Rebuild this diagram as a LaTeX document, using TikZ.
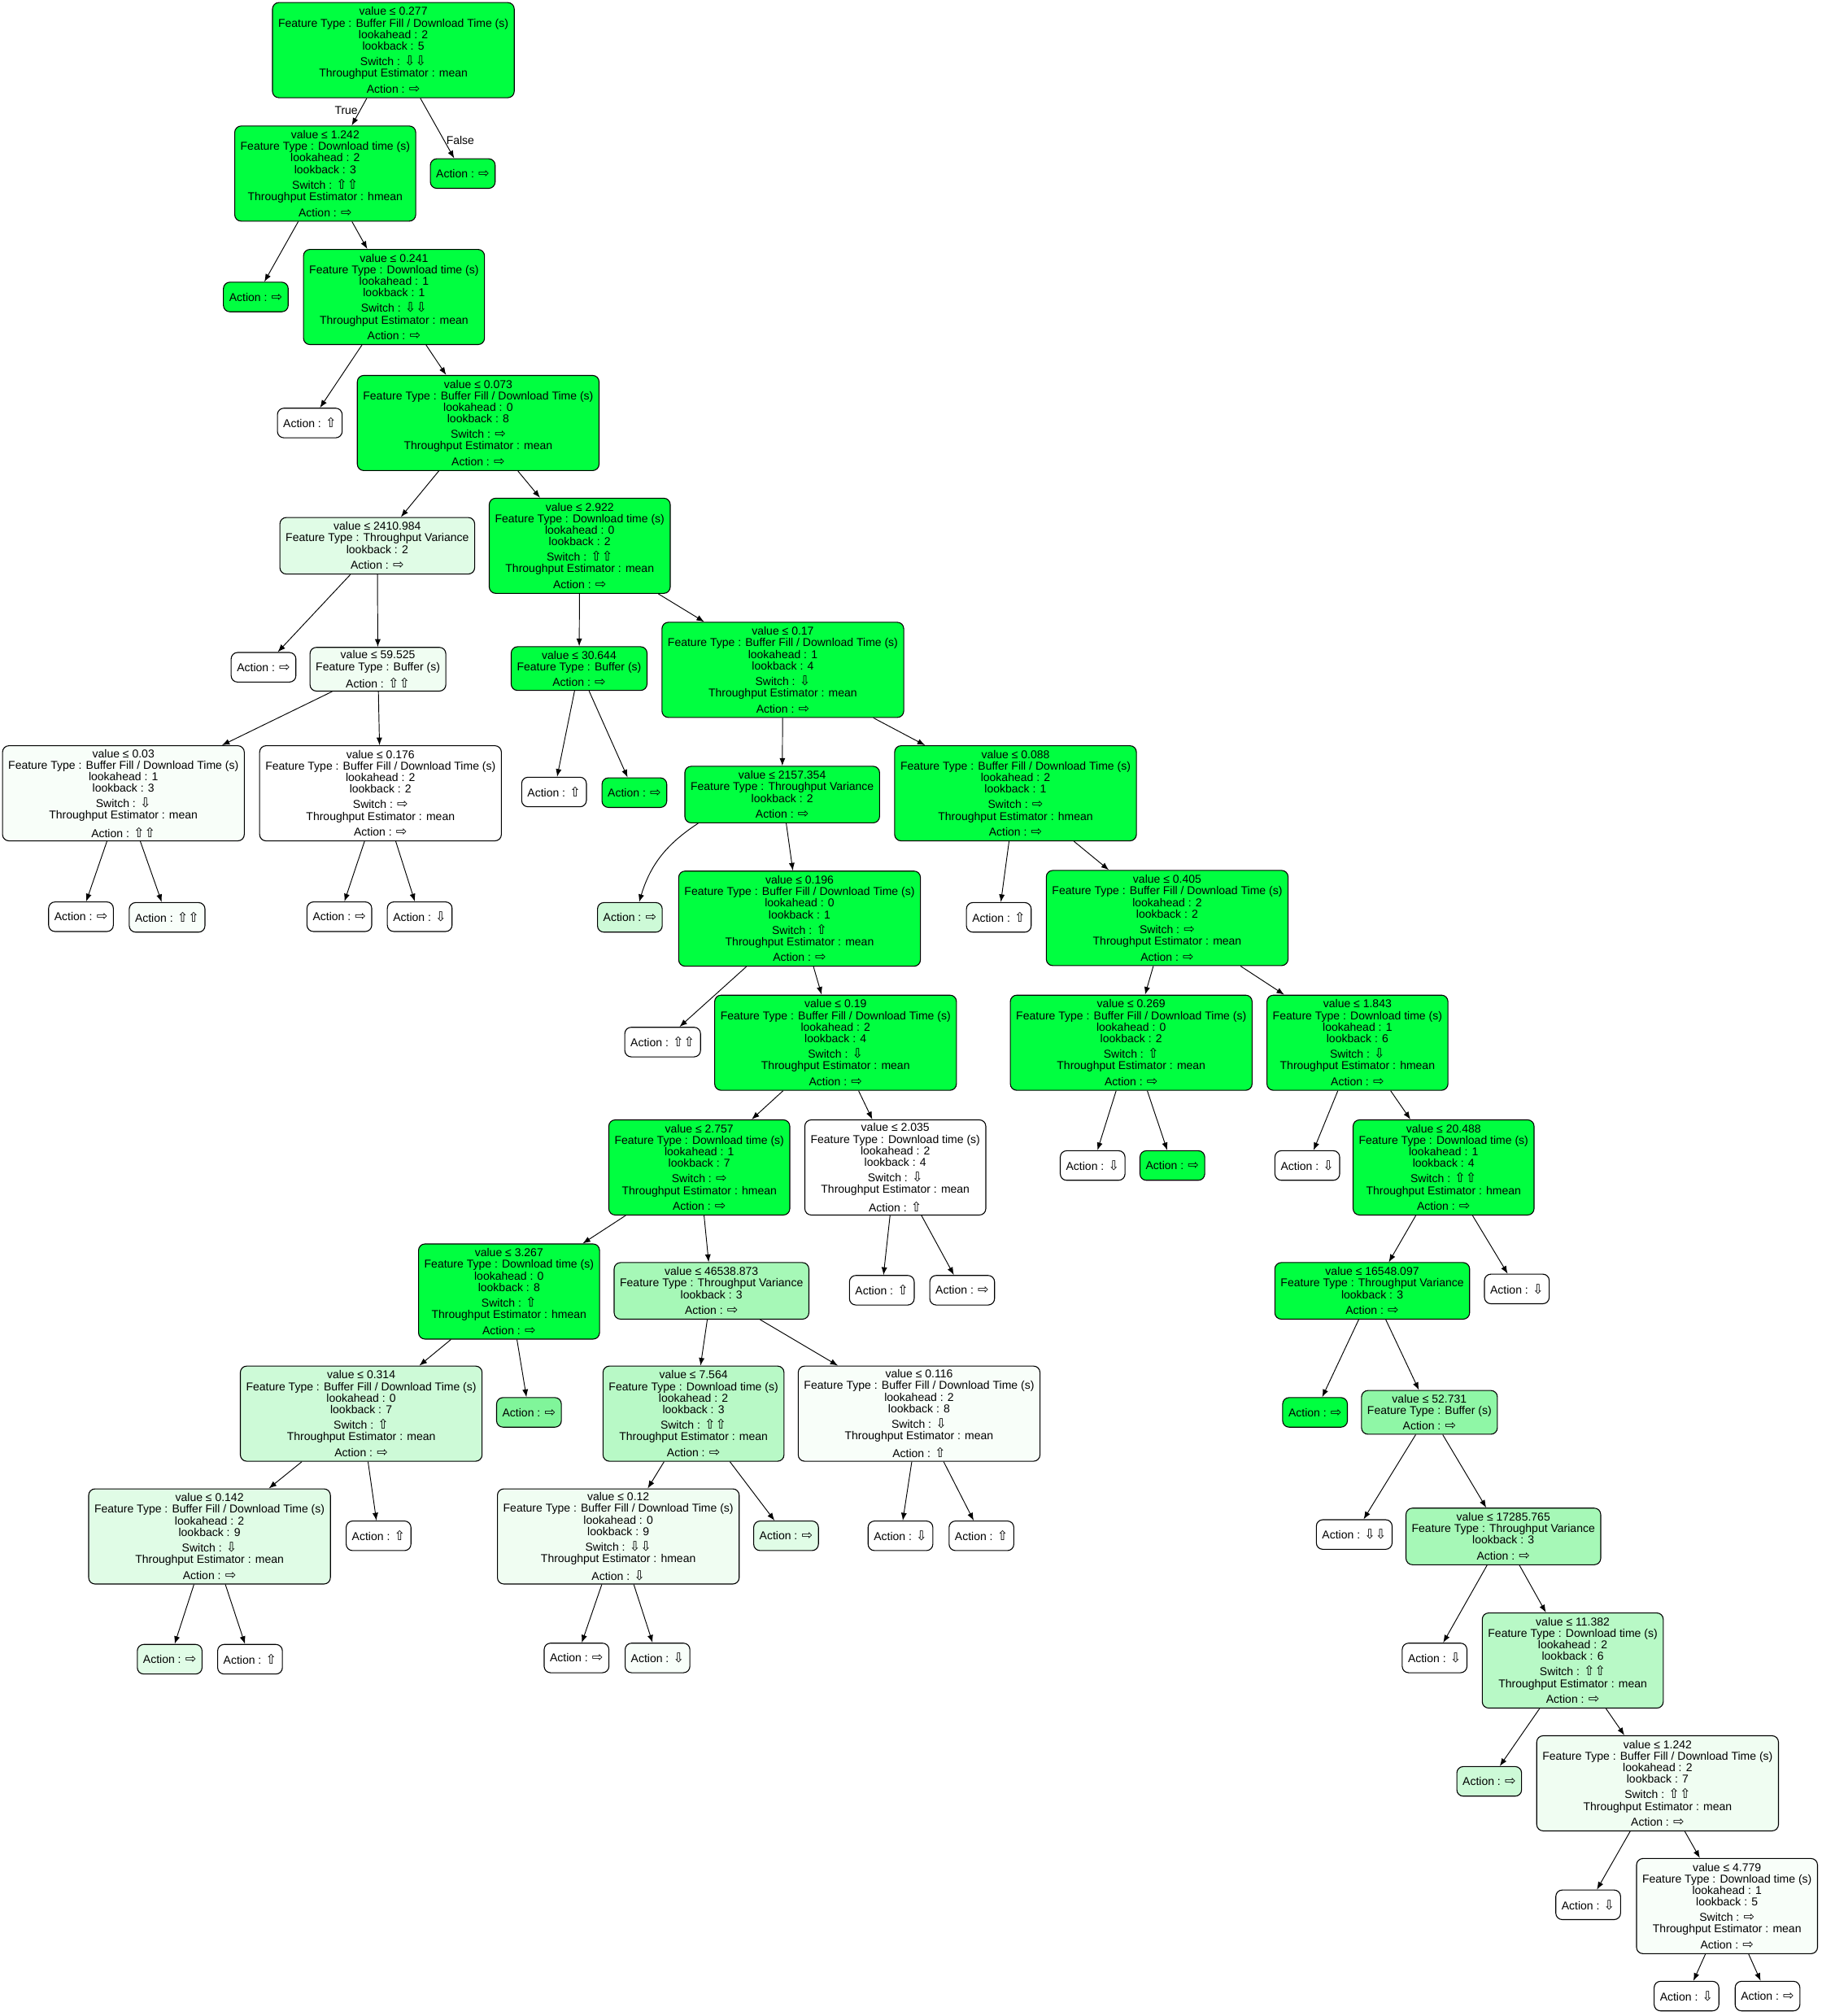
\documentclass[tikz,border=0pt]{standalone}
\usepackage{fontspec}
\setmainfont{Liberation Sans}
\newfontfamily\arrowfont{DejaVu Sans}
\usepackage{xcolor}
\usetikzlibrary{arrows.meta}

\definecolor{gbright}{RGB}{0,255,64}
\definecolor{gpaleA}{RGB}{248,254,249}
\definecolor{gpaleB}{RGB}{240,253,242}
\definecolor{gpaleC}{RGB}{224,252,230}
\definecolor{gpaleD}{RGB}{205,250,215}
\definecolor{gmidA}{RGB}{184,249,198}
\definecolor{gmidB}{RGB}{166,248,183}
\definecolor{gmidC}{RGB}{143,247,166}
\definecolor{gmidD}{RGB}{128,245,154}

\newcommand{\arR}{{\arrowfont\fontsize{10.2}{9}\selectfont ⇨}}
\newcommand{\arU}{{\arrowfont\fontsize{10.2}{9}\selectfont ⇧}}
\newcommand{\arD}{{\arrowfont\fontsize{10.2}{9}\selectfont ⇩}}

\tikzset{
  nodebox/.style={draw, rounded corners=5pt, line width=0.7pt, align=center,
    inner xsep=4.5pt, inner ysep=1pt, font=\fontsize{8.86}{9}\selectfont},
  fullbox/.style={nodebox, minimum height=74pt},
  varbox/.style={nodebox, minimum height=44pt},
  bufbox/.style={nodebox, minimum height=34pt},
  leafbox/.style={nodebox, minimum height=23pt},
  treeedge/.style={-{Latex[length=6pt,width=4.5pt]}, line width=0.6pt},
  edgelabel/.style={font=\fontsize{8.86}{9}\selectfont, inner sep=1.5pt}
}

\begin{document}
\begin{tikzpicture}[x=1pt, y=-1pt]

\useasboundingbox (0,0) rectangle (1417,1568);

% Root and upper spine
\node[fullbox, fill=gbright] (n0) at (306,39) {value ≤ 0.277\\Feature Type : Buffer Fill / Download Time (s)\\lookahead : 2\\lookback : 5\\[3pt]Switch : \arD\arD\\Throughput Estimator : mean\\[3.5pt]Action : \arR};
\node[fullbox, fill=gbright] (n1) at (253,135) {value ≤ 1.242\\Feature Type : Download time (s)\\lookahead : 2\\lookback : 3\\[3pt]Switch : \arU\arU\\Throughput Estimator : hmean\\[3.5pt]Action : \arR};
\node[leafbox, fill=gbright] (lf) at (360,135) {Action : \arR};
\node[leafbox, fill=gbright] (l1) at (199,231) {Action : \arR};
\node[fullbox, fill=gbright] (n2) at (306.5,231) {value ≤ 0.241\\Feature Type : Download time (s)\\lookahead : 1\\lookback : 1\\[3pt]Switch : \arD\arD\\Throughput Estimator : mean\\[3.5pt]Action : \arR};
\node[leafbox, fill=white] (l2) at (241,329) {Action : \arU};
\node[fullbox, fill=gbright] (n3) at (372,329) {value ≤ 0.073\\Feature Type : Buffer Fill / Download Time (s)\\lookahead : 0\\lookback : 8\\[3pt]Switch : \arR\\Throughput Estimator : mean\\[3.5pt]Action : \arR};

% Left branch
\node[varbox, fill=gpaleC] (n4) at (293.5,424.5) {value ≤ 2410.984\\Feature Type : Throughput Variance\\lookback : 2\\[3.5pt]Action : \arR};
\node[leafbox, fill=white] (l3) at (205,519) {Action : \arR};
\node[bufbox, fill=gpaleB] (n6) at (294,520.5) {value ≤ 59.525\\Feature Type : Buffer (s)\\[3pt]Action : \arU\arU};
\node[fullbox, fill=gpaleA] (n9) at (96,617) {value ≤ 0.03\\Feature Type : Buffer Fill / Download Time (s)\\lookahead : 1\\lookback : 3\\[3pt]Switch : \arD\\Throughput Estimator : mean\\[3.5pt]Action : \arU\arU};
\node[fullbox, fill=white] (n10) at (296,617) {value ≤ 0.176\\Feature Type : Buffer Fill / Download Time (s)\\lookahead : 2\\lookback : 2\\[3pt]Switch : \arR\\Throughput Estimator : mean\\[3.5pt]Action : \arR};
\node[leafbox, fill=white] (l4) at (63,713) {Action : \arR};
\node[leafbox, fill=gpaleA] (l5) at (130,713.5) {Action : \arU\arU};
\node[leafbox, fill=white] (l6) at (264,713) {Action : \arR};
\node[leafbox, fill=white] (l7) at (326.5,713) {Action : \arD};

% Middle branch
\node[fullbox, fill=gbright] (n5) at (451,424.5) {value ≤ 2.922\\Feature Type : Download time (s)\\lookahead : 0\\lookback : 2\\[3pt]Switch : \arU\arU\\Throughput Estimator : mean\\[3.5pt]Action : \arR};
\node[bufbox, fill=gbright] (n7) at (450.5,520) {value ≤ 30.644\\Feature Type : Buffer (s)\\[3pt]Action : \arR};
\node[fullbox, fill=gbright] (n8) at (609,521) {value ≤ 0.17\\Feature Type : Buffer Fill / Download Time (s)\\lookahead : 1\\lookback : 4\\[3pt]Switch : \arD\\Throughput Estimator : mean\\[3.5pt]Action : \arR};
\node[leafbox, fill=white] (l8) at (431,616) {Action : \arU};
\node[leafbox, fill=gbright] (l9) at (493.5,616.5) {Action : \arR};
\node[varbox, fill=gbright] (n11) at (608.5,618) {value ≤ 2157.354\\Feature Type : Throughput Variance\\lookback : 2\\[3.5pt]Action : \arR};
\node[leafbox, fill=gpaleD] (l10) at (490,713.5) {Action : \arR};
\node[fullbox, fill=gbright] (n13) at (622,714.5) {value ≤ 0.196\\Feature Type : Buffer Fill / Download Time (s)\\lookahead : 0\\lookback : 1\\[3pt]Switch : \arU\\Throughput Estimator : mean\\[3.5pt]Action : \arR};
\node[leafbox, fill=white] (l12) at (515.5,810.5) {Action : \arU\arU};
\node[fullbox, fill=gbright] (n15) at (650,811) {value ≤ 0.19\\Feature Type : Buffer Fill / Download Time (s)\\lookahead : 2\\lookback : 4\\[3pt]Switch : \arD\\Throughput Estimator : mean\\[3.5pt]Action : \arR};
\node[fullbox, fill=gbright] (n18) at (544,908) {value ≤ 2.757\\Feature Type : Download time (s)\\lookahead : 1\\lookback : 7\\[3pt]Switch : \arR\\Throughput Estimator : hmean\\[3.5pt]Action : \arR};
\node[fullbox, fill=white] (n19) at (696.5,908) {value ≤ 2.035\\Feature Type : Download time (s)\\lookahead : 2\\lookback : 4\\[3pt]Switch : \arD\\Throughput Estimator : mean\\[3.5pt]Action : \arU};
\node[leafbox, fill=white] (l16) at (686,1003.5) {Action : \arU};
\node[leafbox, fill=white] (l17) at (748.5,1003.5) {Action : \arR};
\node[fullbox, fill=gbright] (n21) at (396,1004.5) {value ≤ 3.267\\Feature Type : Download time (s)\\lookahead : 0\\lookback : 8\\[3pt]Switch : \arU\\Throughput Estimator : hmean\\[3.5pt]Action : \arR};
\node[varbox, fill=gmidB] (n22) at (553.5,1004) {value ≤ 46538.873\\Feature Type : Throughput Variance\\lookback : 3\\[3.5pt]Action : \arR};
\node[fullbox, fill=gpaleD] (n24) at (281,1099.5) {value ≤ 0.314\\Feature Type : Buffer Fill / Download Time (s)\\lookahead : 0\\lookback : 7\\[3pt]Switch : \arU\\Throughput Estimator : mean\\[3.5pt]Action : \arR};
\node[leafbox, fill=gmidD] (l19) at (411.5,1098.5) {Action : \arR};
\node[fullbox, fill=gmidA] (n25) at (539.5,1099.5) {value ≤ 7.564\\Feature Type : Download time (s)\\lookahead : 2\\lookback : 3\\[3pt]Switch : \arU\arU\\Throughput Estimator : mean\\[3.5pt]Action : \arR};
\node[fullbox, fill=gpaleA] (n26) at (715,1099.5) {value ≤ 0.116\\Feature Type : Buffer Fill / Download Time (s)\\lookahead : 2\\lookback : 8\\[3pt]Switch : \arD\\Throughput Estimator : mean\\[3.5pt]Action : \arU};
\node[fullbox, fill=gpaleC] (n28) at (163,1195) {value ≤ 0.142\\Feature Type : Buffer Fill / Download Time (s)\\lookahead : 2\\lookback : 9\\[3pt]Switch : \arD\\Throughput Estimator : mean\\[3.5pt]Action : \arR};
\node[leafbox, fill=white] (l21) at (294.5,1194.5) {Action : \arU};
\node[fullbox, fill=gpaleB] (n29) at (481,1195) {value ≤ 0.12\\Feature Type : Buffer Fill / Download Time (s)\\lookahead : 0\\lookback : 9\\[3pt]Switch : \arD\arD\\Throughput Estimator : hmean\\[3.5pt]Action : \arD};
\node[leafbox, fill=gpaleC] (l22) at (611.5,1194.5) {Action : \arR};
\node[leafbox, fill=white] (l23) at (700.5,1194.5) {Action : \arD};
\node[leafbox, fill=white] (l24) at (763.5,1194.5) {Action : \arU};
\node[leafbox, fill=gpaleC] (l26) at (132,1290.5) {Action : \arR};
\node[leafbox, fill=white] (l27) at (194.5,1290.5) {Action : \arU};
\node[leafbox, fill=white] (l28) at (448.5,1289.5) {Action : \arR};
\node[leafbox, fill=gpaleA] (l29) at (511.5,1289.5) {Action : \arD};

% Right branch
\node[fullbox, fill=gbright] (n12) at (790,617) {value ≤ 0.088\\Feature Type : Buffer Fill / Download Time (s)\\lookahead : 2\\lookback : 1\\[3pt]Switch : \arR\\Throughput Estimator : hmean\\[3.5pt]Action : \arR};
\node[leafbox, fill=white] (l11) at (777,713.5) {Action : \arU};
\node[fullbox, fill=gbright] (n14) at (908,714) {value ≤ 0.405\\Feature Type : Buffer Fill / Download Time (s)\\lookahead : 2\\lookback : 2\\[3pt]Switch : \arR\\Throughput Estimator : mean\\[3.5pt]Action : \arR};
\node[fullbox, fill=gbright] (n16) at (880,811) {value ≤ 0.269\\Feature Type : Buffer Fill / Download Time (s)\\lookahead : 0\\lookback : 2\\[3pt]Switch : \arU\\Throughput Estimator : mean\\[3.5pt]Action : \arR};
\node[fullbox, fill=gbright] (n17) at (1056,811) {value ≤ 1.843\\Feature Type : Download time (s)\\lookahead : 1\\lookback : 6\\[3pt]Switch : \arD\\Throughput Estimator : hmean\\[3.5pt]Action : \arR};
\node[leafbox, fill=white] (l13) at (850,906.5) {Action : \arD};
\node[leafbox, fill=gbright] (l14) at (912,906.5) {Action : \arR};
\node[leafbox, fill=white] (l15) at (1017,906.5) {Action : \arD};
\node[fullbox, fill=gbright] (n20) at (1123,908) {value ≤ 20.488\\Feature Type : Download time (s)\\lookahead : 1\\lookback : 4\\[3pt]Switch : \arU\arU\\Throughput Estimator : hmean\\[3.5pt]Action : \arR};
\node[varbox, fill=gbright] (n23) at (1067.5,1004) {value ≤ 16548.097\\Feature Type : Throughput Variance\\lookback : 3\\[3.5pt]Action : \arR};
\node[leafbox, fill=white] (l18) at (1180,1002.5) {Action : \arD};
\node[leafbox, fill=gbright] (l20) at (1023,1098.5) {Action : \arR};
\node[bufbox, fill=gmidC] (n27) at (1112,1098.5) {value ≤ 52.731\\Feature Type : Buffer (s)\\[3pt]Action : \arR};
\node[leafbox, fill=white] (l25) at (1053.5,1193.5) {Action : \arD\arD};
\node[varbox, fill=gmidB] (n30) at (1169.5,1195) {value ≤ 17285.765\\Feature Type : Throughput Variance\\lookback : 3\\[3.5pt]Action : \arR};
\node[leafbox, fill=white] (l30) at (1116,1289.5) {Action : \arD};
\node[fullbox, fill=gmidA] (n31) at (1223.5,1291.5) {value ≤ 11.382\\Feature Type : Download time (s)\\lookahead : 2\\lookback : 6\\[3pt]Switch : \arU\arU\\Throughput Estimator : mean\\[3.5pt]Action : \arR};
\node[leafbox, fill=gpaleD] (l31) at (1158.5,1385.5) {Action : \arR};
\node[fullbox, fill=gpaleB] (n32) at (1289.5,1387) {value ≤ 1.242\\Feature Type : Buffer Fill / Download Time (s)\\lookahead : 2\\lookback : 7\\[3pt]Switch : \arU\arU\\Throughput Estimator : mean\\[3.5pt]Action : \arR};
\node[leafbox, fill=white] (l32) at (1235.5,1481.5) {Action : \arD};
\node[fullbox, fill=gpaleA] (n33) at (1343.5,1482.5) {value ≤ 4.779\\Feature Type : Download time (s)\\lookahead : 1\\lookback : 5\\[3pt]Switch : \arR\\Throughput Estimator : mean\\[3.5pt]Action : \arR};
\node[leafbox, fill=white] (l33) at (1312,1552.5) {Action : \arD};
\node[leafbox, fill=white] (l34) at (1375,1552.5) {Action : \arR};

% Edges
\draw[treeedge] (n0) -- node[edgelabel, left, pos=0.45] {True} (n1);
\draw[treeedge] (n0) -- node[edgelabel, right, pos=0.7] {False} (lf);
\draw[treeedge] (n1) -- (l1); \draw[treeedge] (n1) -- (n2);
\draw[treeedge] (n2) -- (l2); \draw[treeedge] (n2) -- (n3);
\draw[treeedge] (n3) -- (n4); \draw[treeedge] (n3) -- (n5);
\draw[treeedge] (n4) -- (l3); \draw[treeedge] (n4) -- (n6);
\draw[treeedge] (n6) -- (n9); \draw[treeedge] (n6) -- (n10);
\draw[treeedge] (n9) -- (l4); \draw[treeedge] (n9) -- (l5);
\draw[treeedge] (n10) -- (l6); \draw[treeedge] (n10) -- (l7);
\draw[treeedge] (n5) -- (n7); \draw[treeedge] (n5) -- (n8);
\draw[treeedge] (n7) -- (l8); \draw[treeedge] (n7) -- (l9);
\draw[treeedge] (n8) -- (n11); \draw[treeedge] (n8) -- (n12);
\draw[treeedge] (n11) to[bend right=20] (l10); \draw[treeedge] (n11) -- (n13);
\draw[treeedge] (n13) -- (l12); \draw[treeedge] (n13) -- (n15);
\draw[treeedge] (n15) -- (n18); \draw[treeedge] (n15) -- (n19);
\draw[treeedge] (n18) -- (n21); \draw[treeedge] (n18) -- (n22);
\draw[treeedge] (n19) -- (l16); \draw[treeedge] (n19) -- (l17);
\draw[treeedge] (n21) -- (n24); \draw[treeedge] (n21) -- (l19);
\draw[treeedge] (n24) -- (n28); \draw[treeedge] (n24) -- (l21);
\draw[treeedge] (n28) -- (l26); \draw[treeedge] (n28) -- (l27);
\draw[treeedge] (n22) -- (n25); \draw[treeedge] (n22) -- (n26);
\draw[treeedge] (n25) -- (n29); \draw[treeedge] (n25) -- (l22);
\draw[treeedge] (n29) -- (l28); \draw[treeedge] (n29) -- (l29);
\draw[treeedge] (n26) -- (l23); \draw[treeedge] (n26) -- (l24);
\draw[treeedge] (n12) -- (l11); \draw[treeedge] (n12) -- (n14);
\draw[treeedge] (n14) -- (n16); \draw[treeedge] (n14) -- (n17);
\draw[treeedge] (n16) -- (l13); \draw[treeedge] (n16) -- (l14);
\draw[treeedge] (n17) -- (l15); \draw[treeedge] (n17) -- (n20);
\draw[treeedge] (n20) -- (n23); \draw[treeedge] (n20) -- (l18);
\draw[treeedge] (n23) -- (l20); \draw[treeedge] (n23) -- (n27);
\draw[treeedge] (n27) -- (l25); \draw[treeedge] (n27) -- (n30);
\draw[treeedge] (n30) -- (l30); \draw[treeedge] (n30) -- (n31);
\draw[treeedge] (n31) -- (l31); \draw[treeedge] (n31) -- (n32);
\draw[treeedge] (n32) -- (l32); \draw[treeedge] (n32) -- (n33);
\draw[treeedge] (n33) -- (l33); \draw[treeedge] (n33) -- (l34);

\end{tikzpicture}
\end{document}
